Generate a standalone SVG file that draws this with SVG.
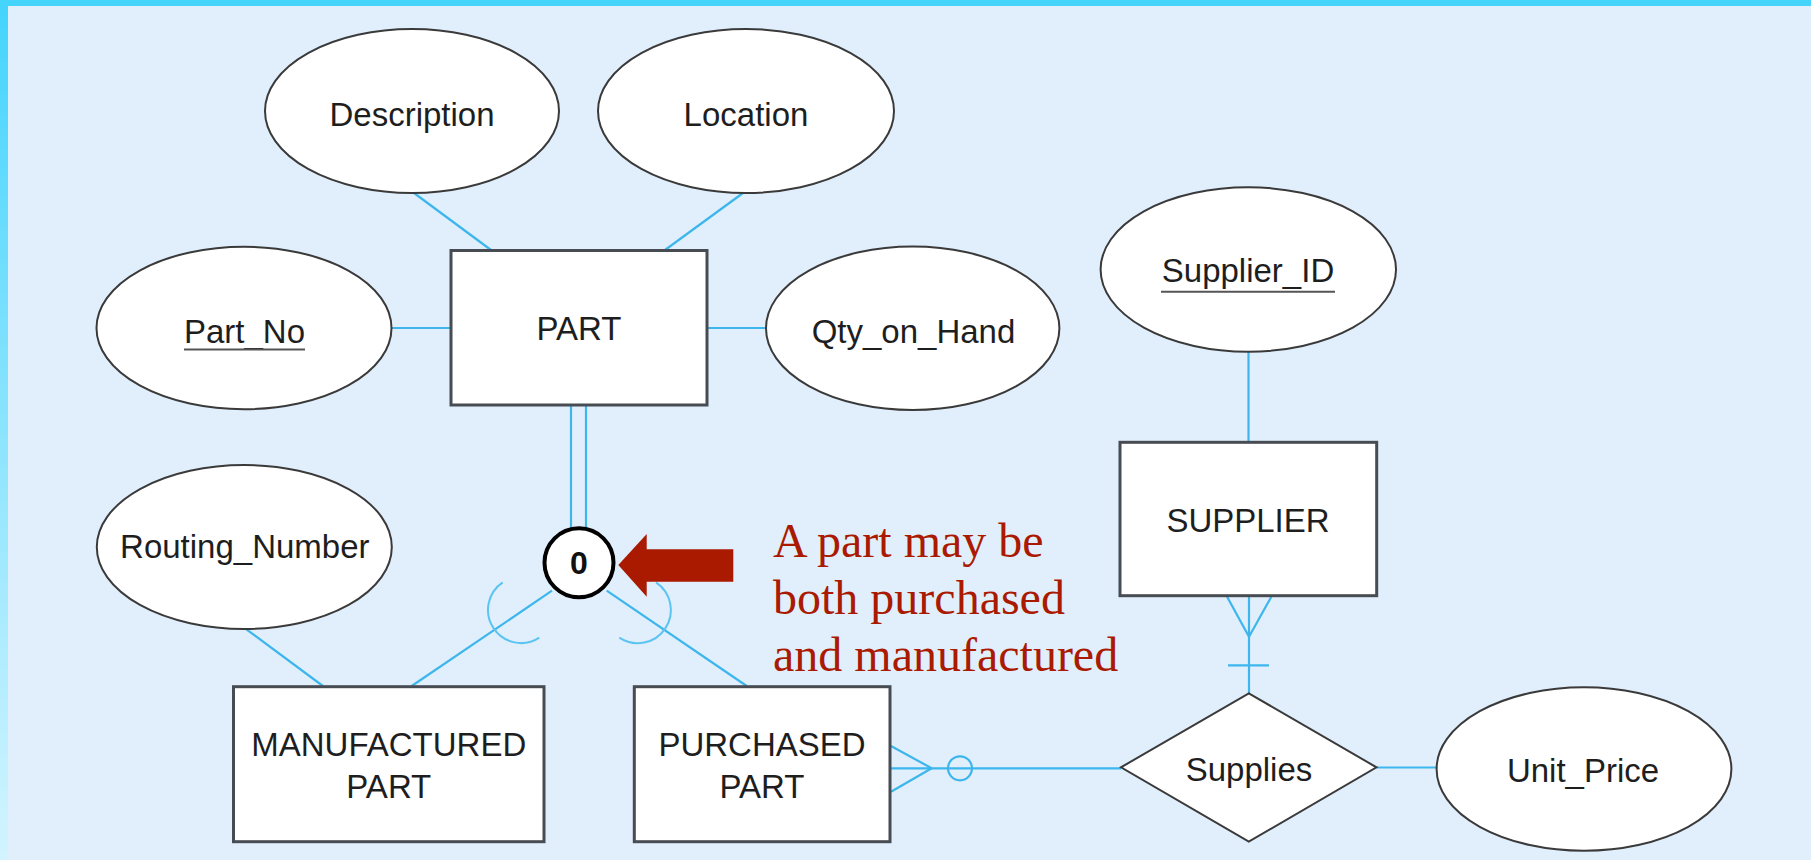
<svg xmlns="http://www.w3.org/2000/svg" width="1811" height="860" viewBox="0 0 1811 860">
<defs>
<linearGradient id="lb" x1="0" y1="0" x2="0" y2="1">
<stop offset="0" stop-color="#44d4fc"/>
<stop offset="1" stop-color="#d2f4ff"/>
</linearGradient>
<style>
.ent{fill:#ffffff;stroke:#474c52;stroke-width:3}
.att{fill:#ffffff;stroke:#3a3a3a;stroke-width:2}
.lbl{font-family:"Liberation Sans",Arial,sans-serif;font-size:33px;fill:#1e1e1e;text-anchor:middle}
.con{stroke:#3cb6ec;stroke-width:2.2;fill:none}
.arc{stroke:#5cc4f0;stroke-width:2;fill:none}
.ul{stroke:#555;stroke-width:2}
.note{font-family:"Liberation Serif","Times New Roman",serif;font-size:48px;fill:#aa1a00}
</style>
</defs>
<rect x="0" y="0" width="1811" height="860" fill="#e1effc"/>
<rect x="0" y="0" width="1811" height="6" fill="#44d4fc"/>
<rect x="0" y="0" width="8" height="860" fill="url(#lb)"/>

<g id="connectors">
<line class="con" x1="414" y1="193" x2="491" y2="250"/>
<line class="con" x1="743" y1="193" x2="665" y2="250"/>
<line class="con" x1="392" y1="328" x2="451" y2="328"/>
<line class="con" x1="707" y1="328" x2="766" y2="328"/>
<line class="con" x1="571" y1="405" x2="571" y2="530"/>
<line class="con" x1="586" y1="405" x2="586" y2="530"/>
<line class="con" x1="552" y1="590.7" x2="411.7" y2="686"/>
<line class="con" x1="606.7" y1="590.7" x2="746.7" y2="686"/>
<path class="arc" d="M502.7,582.3 A33.2,33.2 0 0 0 539.3,637.7"/>
<path class="arc" d="M656,582.3 A33.2,33.2 0 0 1 619.3,637.7"/>
<line class="con" x1="246.4" y1="629.3" x2="322.9" y2="686"/>
<line class="con" x1="1248.5" y1="352" x2="1248.5" y2="442"/>
<line class="con" x1="1249" y1="596" x2="1249" y2="694"/>
<line class="con" x1="1226.7" y1="596" x2="1249" y2="636.7"/>
<line class="con" x1="1271.7" y1="596" x2="1249" y2="636.7"/>
<line class="con" x1="1228" y1="665.3" x2="1269" y2="665.3"/>
<line class="con" x1="891" y1="768.3" x2="1121" y2="768.3"/>
<line class="con" x1="891" y1="746" x2="931.7" y2="768.3"/>
<line class="con" x1="891" y1="791.7" x2="931.7" y2="768.3"/>
<circle class="con" cx="960" cy="768.3" r="12" fill="#e1effc"/>
<line class="con" x1="1376.5" y1="767.5" x2="1437" y2="767.5"/>
</g>

<g id="description"><ellipse class="att" cx="412" cy="111" rx="147" ry="82"/><text class="lbl" x="412" y="126">Description</text></g>
<g id="location"><ellipse class="att" cx="746" cy="111" rx="148" ry="82"/><text class="lbl" x="746" y="126">Location</text></g>
<g id="part_no"><ellipse class="att" cx="244" cy="328" rx="147.5" ry="81.3"/><text class="lbl" x="244.5" y="342.7">Part_No</text><line class="ul" x1="184" y1="349.5" x2="305" y2="349.5"/></g>
<g id="part"><rect class="ent" x="451" y="250.5" width="256" height="154.5"/><text class="lbl" x="579" y="340">PART</text></g>
<g id="qty_on_hand"><ellipse class="att" cx="912.7" cy="328.3" rx="146.7" ry="81.7"/><text class="lbl" x="913.5" y="343.3">Qty_on_Hand</text></g>
<g id="supplier_id"><ellipse class="att" cx="1248.3" cy="269.5" rx="147.7" ry="82.2"/><text class="lbl" x="1248" y="281.7">Supplier_ID</text><line class="ul" x1="1161" y1="291.7" x2="1335" y2="291.7"/></g>
<g id="supplier"><rect class="ent" x="1120" y="442.3" width="256.7" height="153.4"/><text class="lbl" x="1248" y="531.7">SUPPLIER</text></g>
<g id="routing_number"><ellipse class="att" cx="244.3" cy="547" rx="147.5" ry="82"/><text class="lbl" x="244.8" y="558.3">Routing_Number</text></g>
<g id="disjoint"><circle cx="579" cy="562.7" r="34.5" fill="#ffffff" stroke="#000000" stroke-width="4"/><text x="579" y="574" font-family="'Liberation Sans',Arial,sans-serif" font-size="32" font-weight="bold" fill="#111" text-anchor="middle">0</text></g>
<g id="manufactured_part"><rect class="ent" x="233.5" y="686.7" width="310.5" height="155"/><text class="lbl" x="388.8" y="756">MANUFACTURED</text><text class="lbl" x="388.8" y="798.3">PART</text></g>
<g id="purchased_part"><rect class="ent" x="634.3" y="686.7" width="255.7" height="155"/><text class="lbl" x="762" y="756">PURCHASED</text><text class="lbl" x="762" y="798.3">PART</text></g>
<g id="supplies"><polygon class="att" points="1248.8,693.3 1376.5,767.3 1248.8,841.7 1121,767.3"/><text class="lbl" x="1249" y="780.7">Supplies</text></g>
<g id="unit_price"><ellipse class="att" cx="1584" cy="769" rx="147.4" ry="81.7"/><text class="lbl" x="1583" y="781.7">Unit_Price</text></g>

<g id="note">
<polygon points="618.3,565 646.7,534 646.7,549.3 733.3,549.3 733.3,581.7 646.7,581.7 646.7,596.7" fill="#aa1a00"/>
<text class="note" x="773" y="557">A part may be</text>
<text class="note" x="773" y="614">both purchased</text>
<text class="note" x="773" y="671">and manufactured</text>
</g>
</svg>
